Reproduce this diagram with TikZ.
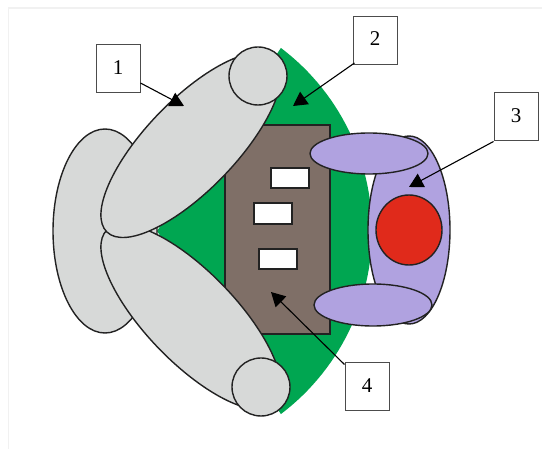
\documentclass[tikz,border=0pt]{standalone}
\usepackage{fontspec}
\usetikzlibrary{arrows.meta}
\setmainfont{Liberation Serif}
\definecolor{armgrey}{HTML}{D7D9D8}
\definecolor{leaf}{HTML}{00A651}
\definecolor{bodybrown}{HTML}{7F6F67}
\definecolor{lilac}{HTML}{B0A2E0}
\definecolor{redc}{HTML}{E02A1B}
\definecolor{ink}{HTML}{222222}
\definecolor{pagefaint}{HTML}{F1F1F1}
\tikzset{
  part/.style={draw=ink,line width=1.4pt},
  grey/.style={part,fill=armgrey},
  lil/.style={part,fill=lilac},
  slot/.style={part,fill=white},
  labelbox/.style={draw=black!70,line width=1pt,fill=white,minimum width=44pt,minimum height=48pt,inner sep=0pt,text depth=3pt,font=\fontsize{21}{24}\selectfont},
  leader/.style={draw=black,line width=1.1pt,-{Triangle[length=14pt,width=15pt]}},
}
\begin{document}
\begin{tikzpicture}[x=1pt,y=-1pt]
\useasboundingbox (0,0) rectangle (542,449);
\draw[pagefaint,line width=1.2pt] (8.5,449) -- (8.5,8) -- (542,8);
\fill[leaf] plot[domain=-52.9:52.9,samples=60] ({142.5+229.5*cos(\x)},{231+229.5*sin(\x)}) -- (157,231) -- cycle;
\draw[grey] (105,231) ellipse [x radius=52pt,y radius=102pt];
\draw[part,fill=bodybrown] (225,125) rectangle (330,334);
\draw[slot] (271,168) rectangle (309,188);
\draw[slot] (254,203) rectangle (292,224);
\draw[slot] (259,249) rectangle (297,269);
\draw[grey,rotate around={-46:(191,317)}] (191,317) ellipse [x radius=121pt,y radius=45pt];
\draw[grey,rotate around={46:(191,145)}] (191,145) ellipse [x radius=121pt,y radius=45pt];
\draw[grey] (258,76) circle [radius=29pt];
\draw[grey] (261,387) circle [radius=29pt];
\draw[lil] (409,230) ellipse [x radius=41pt,y radius=94pt];
\draw[lil] (369,153.5) ellipse [x radius=59pt,y radius=20.5pt];
\draw[lil] (373,305) ellipse [x radius=59pt,y radius=21pt];
\draw[part,fill=redc] (409,230) ellipse [x radius=33pt,y radius=35pt];
\node[labelbox] (n1) at (118,69) {1};
\node[labelbox] (n2) at (375,40.5) {2};
\node[labelbox] (n3) at (516,117) {3};
\node[labelbox] (n4) at (367,387) {4};
\coordinate (t1) at (184,106);
\coordinate (t2) at (293,106);
\coordinate (t3) at (409,187);
\coordinate (t4) at (271,292);
\draw[leader] ([yshift=-14pt]n1.east) -- (t1);
\draw[leader] ([xshift=2pt,yshift=2pt]n2.south west) -- (t2);
\draw[leader] (n3.south west) -- (t3);
\draw[leader] ([yshift=-2pt]n4.north west) -- (t4);
\end{tikzpicture}
\end{document}
